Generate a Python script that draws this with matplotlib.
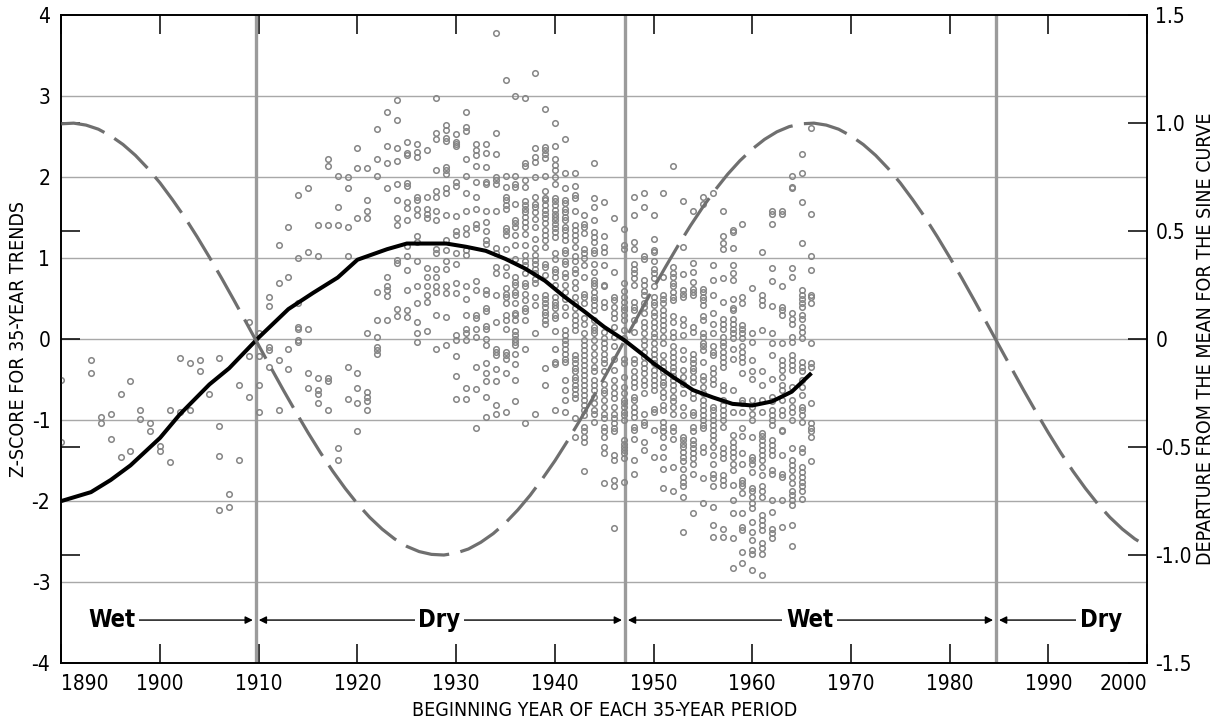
import matplotlib
matplotlib.use('Agg')
import matplotlib.pyplot as plt

plt.rcParams['font.family'] = ['DejaVu Sans']
plt.rcParams['font.stretch'] = 'condensed'
plt.rcParams['axes.unicode_minus'] = False

# --- z-scores of 35-year trends, one list per beginning year ---
pts_1890s = {
    1890: [-0.5, -1.27],
    1893: [-0.26, -0.42],
    1894: [-0.96, -1.04],
    1895: [-0.93, -1.24],
    1896: [-0.68, -1.46],
    1897: [-0.52, -1.38],
    1898: [-0.88, -0.99],
    1899: [-1.04, -1.13],
}
pts_1900s = {
    1900: [-1.32, -1.38],
    1901: [-0.88, -1.52],
    1902: [-0.23, -0.9],
    1903: [-0.29, -0.88],
    1904: [-0.26, -0.39],
    1905: [-0.68],
    1906: [-0.23, -1.07, -1.44, -2.11],
    1907: [-1.91, -2.07],
    1908: [-0.57, -1.49],
    1909: [0.21, -0.21, -0.71],
}
pts_1910s = {
    1910: [0.07, -0.21, -0.57, -0.9],
    1911: [0.52, 0.41, -0.1, -0.14, -0.34],
    1912: [1.16, 0.69, -0.26, -0.88],
    1913: [1.39, 0.77, -0.12, -0.37],
    1914: [1.78, 1.0, 0.44, 0.15, 0.13, -0.01, -0.03],
    1915: [1.86, 1.08, 0.13, -0.42, -0.6],
    1916: [1.41, 1.02, -0.48, -0.63, -0.68, -0.79],
    1917: [2.22, 2.14, 1.41, -0.48, -0.52, -0.88],
    1918: [2.02, 1.63, 1.41, -1.35, -1.49],
    1919: [2.0, 1.86, 1.38, 1.02, -0.34, -0.74],
}
pts_1920s = {
    1920: [2.36, 2.11, 1.5, -0.42, -0.6, -0.79, -1.13],
    1921: [2.11, 1.72, 1.58, 1.5, 0.07, -0.65, -0.71, -0.76, -0.88],
    1922: [2.59, 2.22, 2.02, 0.58, 0.24, 0.02, -0.1, -0.14, -0.18],
    1923: [2.81, 2.39, 2.17, 1.86, 0.77, 0.65, 0.61, 0.53, 0.24],
    1924: [2.95, 2.7, 2.36, 2.2, 1.92, 1.72, 1.5, 1.41, 0.98, 0.94, 0.37, 0.28],
    1925: [2.43, 2.3, 2.27, 1.93, 1.89, 1.69, 1.62, 1.47, 1.15, 1.02, 0.85, 0.61, 0.36, 0.27],
    1926: [2.41, 2.31, 2.25, 1.76, 1.72, 1.61, 1.53, 1.27, 1.2, 0.97, 0.65, 0.44, 0.21, 0.07, -0.04],
    1927: [2.33, 1.76, 1.61, 1.55, 1.49, 0.88, 0.77, 0.65, 0.54, 0.46, 0.1],
    1928: [2.98, 2.55, 2.47, 2.09, 1.83, 1.76, 1.58, 1.47, 1.11, 1.06, 0.87, 0.77, 0.65, 0.58,
           0.3, -0.12],
    1929: [2.64, 2.58, 2.48, 2.45, 2.13, 2.09, 2.04, 1.86, 1.8, 1.53, 1.22, 1.1, 0.97, 0.87,
           0.65, 0.57, 0.27, -0.07],
}
pts_1930s = {
    1930: [2.53, 2.44, 2.41, 2.38, 1.94, 1.89, 1.52, 1.33, 1.28, 1.06, 0.93, 0.69, 0.57, 0.05,
           -0.01, -0.21, -0.46, -0.74],
    1931: [2.81, 2.62, 2.57, 2.22, 2.02, 1.8, 1.58, 1.37, 1.3, 1.1, 1.04, 0.66, 0.49, 0.3,
           0.13, 0.07, -0.01, -0.6, -0.74],
    1932: [2.41, 2.33, 2.27, 2.14, 1.94, 1.75, 1.61, 1.42, 1.37, 0.72, 0.61, 0.3, 0.26, 0.13,
           0.02, -0.34, -0.62, -1.1],
    1933: [2.41, 2.3, 2.12, 1.94, 1.92, 1.58, 1.44, 1.33, 1.22, 1.18, 0.61, 0.56, 0.38, 0.35,
           0.16, 0.13, 0.0, -0.07, -0.29, -0.42, -0.52, -0.71, -0.96],
    1934: [3.78, 2.55, 2.28, 2.0, 1.97, 1.92, 1.58, 1.12, 1.06, 0.89, 0.81, 0.54, 0.21, -0.12,
           -0.16, -0.2, -0.37, -0.52, -0.82, -0.93],
    1935: [3.2, 2.02, 1.88, 1.76, 1.72, 1.65, 1.61, 1.37, 1.34, 1.28, 1.11, 0.89, 0.79, 0.63,
           0.56, 0.52, 0.44, 0.3, 0.23, 0.13, -0.16, -0.2, -0.24, -0.42, -0.9],
    1936: [3.0, 2.02, 1.92, 1.88, 1.67, 1.47, 1.43, 1.39, 1.28, 1.16, 0.99, 0.77, 0.71, 0.67,
           0.58, 0.54, 0.44, 0.32, 0.3, 0.24, 0.1, 0.05, 0.0, -0.04, -0.07, -0.18, -0.31,
           -0.51, -0.76],
    1937: [2.98, 2.17, 2.14, 1.97, 1.88, 1.7, 1.65, 1.61, 1.57, 1.51, 1.45, 1.39, 1.3, 1.16,
           1.04, 0.97, 0.91, 0.81, 0.69, 0.65, 0.56, 0.48, 0.39, 0.35, 0.24, -0.12, -1.04],
    1938: [3.28, 2.36, 2.25, 2.19, 2.0, 1.76, 1.67, 1.63, 1.57, 1.48, 1.39, 1.24, 1.12, 1.04,
           0.98, 0.93, 0.87, 0.81, 0.74, 0.69, 0.52, 0.42, 0.07, -0.93],
    1939: [2.84, 2.37, 2.33, 2.29, 2.24, 2.02, 1.83, 1.74, 1.72, 1.65, 1.6, 1.55, 1.49, 1.43,
           1.35, 1.28, 1.22, 1.14, 0.93, 0.89, 0.79, 0.54, 0.5, 0.44, 0.4, 0.34, 0.3, 0.23,
           0.19, -0.36, -0.57],
}
pts_1940s = {
    1940: [2.67, 2.39, 2.23, 2.15, 2.09, 2.0, 1.92, 1.74, 1.7, 1.65, 1.59, 1.55, 1.51, 1.47,
           1.42, 1.37, 1.32, 1.26, 1.06, 0.99, 0.87, 0.83, 0.77, 0.67, 0.52, 0.46, 0.42, 0.38,
           0.3, 0.26, 0.1, -0.12, -0.28, -0.31, -0.88],
    1941: [2.47, 2.05, 1.86, 1.72, 1.68, 1.61, 1.57, 1.51, 1.47, 1.39, 1.35, 1.28, 1.22, 1.1,
           1.06, 0.97, 0.93, 0.81, 0.77, 0.67, 0.58, 0.5, 0.4, 0.3, 0.11, 0.05, -0.01, -0.06,
           -0.12, -0.18, -0.24, -0.28, -0.51, -0.63, -0.75, -0.9],
    1942: [2.05, 1.89, 1.78, 1.74, 1.58, 1.41, 1.35, 1.28, 1.22, 1.14, 1.02, 0.97, 0.87, 0.81,
           0.71, 0.63, 0.52, 0.44, 0.38, 0.3, 0.23, 0.17, 0.11, -0.2, -0.25, -0.3, -0.36,
           -0.4, -0.47, -0.51, -0.57, -0.62, -0.68, -0.73, -0.98, -1.21],
    1943: [1.53, 1.42, 1.39, 1.31, 1.11, 1.06, 1.0, 0.91, 0.77, 0.56, 0.52, 0.44, 0.26, 0.19,
           0.07, -0.01, -0.07, -0.14, -0.2, -0.26, -0.32, -0.38, -0.44, -0.51, -0.57, -0.63,
           -0.69, -0.75, -0.81, -0.88, -0.94, -1.08, -1.14, -1.21, -1.27, -1.63],
    1944: [2.17, 1.74, 1.63, 1.47, 1.32, 1.26, 1.2, 1.1, 1.06, 0.93, 0.83, 0.73, 0.69, 0.65,
           0.58, 0.52, 0.48, 0.42, 0.36, 0.23, 0.15, 0.11, 0.07, -0.01, -0.1, -0.18, -0.26,
           -0.34, -0.4, -0.51, -0.57, -0.63, -0.71, -0.79, -0.88, -0.92, -1.02],
    1945: [1.69, 1.27, 1.14, 1.08, 0.91, 0.67, 0.65, 0.46, 0.4, 0.09, 0.01, -0.05, -0.11,
           -0.18, -0.24, -0.3, -0.4, -0.55, -0.63, -0.67, -0.75, -0.84, -0.92, -0.98, -1.08,
           -1.14, -1.21, -1.33, -1.41, -1.78],
    1946: [1.5, 0.83, 0.52, 0.48, 0.4, 0.32, 0.26, 0.15, 0.03, -0.09, -0.24, -0.38, -0.51,
           -0.59, -0.67, -0.73, -0.84, -0.92, -0.98, -1.04, -1.1, -1.14, -1.43, -1.49, -1.74,
           -1.82, -2.33],
    1947: [1.36, 1.16, 1.11, 0.69, 0.6, 0.52, 0.46, 0.4, 0.36, 0.3, 0.23, 0.11, 0.01, -0.24,
           -0.3, -0.47, -0.59, -0.67, -0.75, -0.79, -0.84, -0.9, -0.94, -1.0, -1.25, -1.29,
           -1.33, -1.37, -1.41, -1.47, -1.76],
    1948: [1.75, 1.53, 1.2, 1.11, 0.93, 0.87, 0.81, 0.75, 0.67, 0.46, 0.4, 0.36, 0.23, 0.09,
           -0.24, -0.3, -0.4, -0.47, -0.53, -0.59, -0.71, -0.75, -0.84, -0.9, -0.96, -1.08,
           -1.12, -1.23, -1.49, -1.66],
    1949: [1.8, 1.63, 1.02, 0.99, 0.73, 0.67, 0.6, 0.54, 0.44, 0.4, 0.32, 0.21, 0.15, 0.07,
           -0.01, -0.07, -0.16, -0.22, -0.3, -0.36, -0.42, -0.51, -0.57, -0.67, -0.92, -1.02,
           -1.06, -1.27, -1.37],
}
pts_1950s = {
    1950: [1.53, 1.24, 1.1, 1.08, 0.97, 0.87, 0.81, 0.75, 0.65, 0.52, 0.46, 0.42, 0.34, 0.28,
           0.21, 0.15, 0.07, 0.03, -0.05, -0.12, -0.18, -0.24, -0.3, -0.38, -0.44, -0.51,
           -0.57, -0.63, -0.86, -0.9, -1.12, -1.45],
    1951: [1.8, 0.77, 0.54, 0.5, 0.44, 0.36, 0.3, 0.23, 0.17, 0.11, 0.03, -0.05, -0.2, -0.28,
           -0.34, -0.4, -0.47, -0.53, -0.57, -0.65, -0.71, -0.82, -0.88, -1.02, -1.08, -1.14,
           -1.21, -1.33, -1.45, -1.6, -1.84],
    1952: [2.14, 0.89, 0.81, 0.77, 0.69, 0.65, 0.58, 0.52, 0.48, 0.28, 0.21, 0.09, 0.03,
           -0.09, -0.16, -0.22, -0.28, -0.34, -0.4, -0.45, -0.51, -0.57, -0.63, -0.71, -0.77,
           -0.84, -0.92, -1.08, -1.14, -1.23, -1.58, -1.88],
    1953: [1.7, 1.14, 0.8, 0.61, 0.56, 0.52, 0.25, 0.17, 0.05, -0.14, -0.24, -0.38, -0.47,
           -0.55, -0.67, -0.84, -0.94, -1.21, -1.25, -1.29, -1.33, -1.39, -1.45, -1.51, -1.6,
           -1.7, -1.76, -1.82, -1.95, -2.38],
    1954: [1.58, 0.94, 0.83, 0.71, 0.62, 0.58, 0.54, 0.15, 0.09, -0.18, -0.24, -0.3, -0.36,
           -0.4, -0.47, -0.53, -0.67, -0.73, -0.9, -0.94, -1.08, -1.14, -1.25, -1.29, -1.35,
           -1.41, -1.47, -1.54, -1.66, -2.15],
    1955: [1.75, 1.67, 0.62, 0.58, 0.52, 0.48, 0.42, 0.28, 0.23, 0.07, 0.03, -0.05, -0.09,
           -0.14, -0.28, -0.45, -0.51, -0.59, -0.67, -0.75, -0.82, -0.88, -0.94, -1.0, -1.06,
           -1.1, -1.33, -1.39, -1.72, -2.02],
    1956: [1.8, 0.91, 0.73, 0.55, 0.32, 0.19, 0.07, -0.09, -0.16, -0.2, -0.36, -0.42, -0.49,
           -0.55, -0.84, -0.88, -0.94, -1.0, -1.06, -1.12, -1.18, -1.25, -1.33, -1.43, -1.54,
           -1.66, -1.72, -1.82, -2.07, -2.3, -2.44],
    1957: [1.58, 1.27, 1.19, 1.11, 0.75, 0.46, 0.25, 0.19, 0.13, 0.03, -0.03, -0.09, -0.16,
           -0.22, -0.28, -0.34, -0.57, -0.63, -0.75, -0.82, -0.88, -0.94, -1.0, -1.08, -1.35,
           -1.41, -1.47, -1.68, -1.74, -1.8, -2.34, -2.44],
    1958: [1.35, 1.32, 1.13, 0.91, 0.81, 0.73, 0.5, 0.38, 0.36, 0.25, 0.19, 0.13, 0.07, 0.01,
           -0.12, -0.24, -0.63, -0.9, -1.18, -1.27, -1.33, -1.39, -1.45, -1.54, -1.62, -1.8,
           -1.99, -2.15, -2.46, -2.83],
    1959: [1.42, 0.52, 0.44, 0.17, 0.13, 0.07, 0.01, -0.09, -0.16, -0.22, -0.28, -0.42,
           -0.75, -0.79, -0.9, -1.1, -1.2, -1.41, -1.54, -1.74, -1.78, -1.82, -1.9, -2.15,
           -2.32, -2.36, -2.63, -2.77],
}
pts_1960s = {
    1960: [0.63, 0.07, -0.03, -0.26, -0.4, -0.49, -0.75, -0.84, -0.92, -1.0, -1.21, -1.45,
           -1.49, -1.54, -1.64, -1.84, -1.88, -1.95, -2.03, -2.09, -2.26, -2.38, -2.48, -2.6,
           -2.65, -2.85],
    1961: [1.08, 0.54, 0.48, 0.42, 0.11, -0.4, -0.57, -0.75, -0.9, -1.16, -1.2, -1.25, -1.31,
           -1.37, -1.43, -1.49, -1.58, -1.68, -1.82, -1.88, -1.95, -2.17, -2.23, -2.3, -2.36,
           -2.52, -2.58, -2.65, -2.91],
    1962: [1.58, 1.54, 1.42, 0.88, 0.72, 0.41, 0.07, -0.05, -0.2, -0.49, -0.71, -0.77, -0.88,
           -0.94, -1.0, -1.06, -1.25, -1.31, -1.37, -1.43, -1.62, -1.66, -1.99, -2.13, -2.34,
           -2.4, -2.46],
    1963: [1.58, 1.54, 0.66, 0.4, 0.36, 0.3, -0.05, -0.26, -0.32, -0.38, -0.47, -0.57, -0.63,
           -0.75, -0.88, -0.94, -1.12, -1.14, -1.43, -1.66, -1.7, -1.99, -2.32],
    1964: [2.02, 1.88, 1.86, 0.88, 0.77, 0.32, 0.25, 0.19, 0.03, -0.03, -0.2, -0.26, -0.32,
           -0.38, -0.59, -0.75, -0.84, -0.9, -1.0, -1.35, -1.49, -1.56, -1.62, -1.7, -1.78,
           -1.87, -1.93, -1.99, -2.05, -2.3, -2.55],
    1965: [2.28, 2.05, 1.69, 1.19, 0.61, 0.54, 0.49, 0.44, 0.4, 0.3, 0.25, 0.15, 0.09, 0.01,
           -0.28, -0.34, -0.4, -0.51, -0.59, -0.69, -0.84, -0.88, -0.94, -1.02, -1.35, -1.39,
           -1.58, -1.64, -1.7, -1.76, -1.82, -1.88, -1.97],
    1966: [2.61, 1.55, 1.02, 0.85, 0.54, 0.52, 0.44, -0.05, -0.3, -0.34, -0.79, -1.04, -1.1,
           -1.14, -1.21, -1.51],
}

# --- smoothed trend line (black) ---
smooth_years = [1890, 1893, 1895, 1897, 1900, 1902, 1905, 1907, 1910, 1913, 1915.5, 1918,
                1920, 1923, 1925, 1929, 1931, 1933, 1935, 1937, 1939, 1941, 1943, 1945,
                1947, 1949, 1950, 1952, 1954, 1956, 1958, 1960, 1962, 1964, 1966]
smooth_z = [-2.0, -1.89, -1.74, -1.56, -1.22, -0.93, -0.56, -0.36, 0.02, 0.37, 0.57, 0.76,
            0.98, 1.11, 1.18, 1.18, 1.14, 1.09, 0.99, 0.87, 0.72, 0.52, 0.34, 0.15,
            -0.01, -0.2, -0.3, -0.47, -0.63, -0.72, -0.8, -0.82, -0.77, -0.65, -0.42]

# --- sine curve, departure from the mean (right axis), read every 1.25 years ---
sine_years = [1890 + 1.25 * i for i in range(89)]
sine_dep = [0.997, 1.000, 0.991, 0.972, 0.941, 0.901, 0.851, 0.791, 0.723, 0.646,
            0.564, 0.474, 0.379, 0.281, 0.179, 0.075, -0.030, -0.134, -0.237, -0.337,
            -0.434, -0.526, -0.612, -0.691, -0.763, -0.826, -0.880, -0.925, -0.960, -0.984,
            -0.997, -1.000, -0.991, -0.972, -0.941, -0.901, -0.851, -0.791, -0.723, -0.646,
            -0.564, -0.474, -0.379, -0.281, -0.179, -0.075, 0.030, 0.134, 0.237, 0.337,
            0.434, 0.526, 0.612, 0.691, 0.763, 0.826, 0.880, 0.925, 0.960, 0.984,
            0.997, 1.000, 0.991, 0.972, 0.941, 0.901, 0.851, 0.791, 0.723, 0.646,
            0.564, 0.474, 0.379, 0.281, 0.179, 0.075, -0.030, -0.134, -0.237, -0.337,
            -0.434, -0.526, -0.612, -0.691, -0.763, -0.826, -0.880, -0.925, -0.960]

phase_breaks = [1909.7, 1947.1, 1984.7]
phase_labels = ['Wet', 'Dry', 'Wet', 'Dry']
phase_label_x = [1895.1, 1928.3, 1965.8, 1995.3]

left_ticks = list(range(-4, 5))
right_ticks = [-1.5, -1.0, -0.5, 0, 0.5, 1.0, 1.5]
right_tick_labels = ['-1.5', '-1.0', '-0.5', '0', '0.5', '1.0', '1.5']
x_ticks = list(range(1890, 2001, 10))

fig = plt.figure(figsize=(12.2, 7.23), dpi=100)
ax = fig.add_axes([0.0503, 0.083, 0.8899, 0.896])
ax.set_xlim(1890, 2000)
ax.set_ylim(-4, 4)

for z in range(-3, 4):
    ax.axhline(z, color='#a8a8a8', lw=1.0, zorder=1)
for xb in phase_breaks:
    ax.axvline(xb, color='#9b9b9b', lw=2.4, zorder=2)

# scatter points
xs, zs = [], []
for group in [pts_1890s, pts_1900s, pts_1910s, pts_1920s, pts_1930s, pts_1940s,
              pts_1950s, pts_1960s]:
    for yr, vals in group.items():
        xs += [yr] * len(vals)
        zs += vals
ax.plot(xs, zs, 'o', mfc='none', mec='#858585', ms=4.0, mew=1.1, zorder=3)

# smoothed trend line
ax.plot(smooth_years, smooth_z, color='black', lw=2.9, zorder=5,
        solid_joinstyle='round', solid_capstyle='butt')

# wet / dry annotations: arrows run from the label to the phase break
ya = -3.47
arrow_pairs = [(1895.1, 1909.4), (1928.3, 1910.0), (1928.3, 1946.8),
               (1965.8, 1947.4), (1965.8, 1984.4), (1995.3, 1985.0)]
for x0, x1 in arrow_pairs:
    ax.annotate('', xy=(x1, ya), xytext=(x0, ya),
                arrowprops=dict(arrowstyle='-|>', color='black', lw=1.0,
                                mutation_scale=11, shrinkA=0, shrinkB=0), zorder=6)
for lab, xl in zip(phase_labels, phase_label_x):
    ax.text(xl, ya, lab, ha='center', va='center', fontsize=17, fontweight='bold', zorder=7,
            bbox=dict(boxstyle='square,pad=0.15', fc='white', ec='none'))

ax.set_yticks(left_ticks)
ax.set_yticklabels([str(v) for v in left_ticks])
ax.tick_params(axis='y', length=0, labelsize=15, pad=8)
ax.set_xticks(x_ticks)
ax.set_xticklabels([str(v) for v in x_ticks])
ax.tick_params(axis='x', direction='in', length=13.5, width=1.1, top=True,
               labelsize=15, pad=8)
xl = ax.get_xticklabels()
xl[0].set_ha('left')
xl[-1].set_ha('right')

ax.set_xlabel('BEGINNING YEAR OF EACH 35-YEAR PERIOD', fontsize=14, labelpad=5)
ax.set_ylabel('Z-SCORE FOR 35-YEAR TRENDS', fontsize=14)
ax.yaxis.set_label_coords(-0.031, 0.5)

ax2 = ax.twinx()
ax2.set_ylim(-1.5, 1.5)
ax2.plot(sine_years, sine_dep, color='#6f6f6f', lw=2.3, linestyle=(0, (14, 3.6)),
         dash_capstyle='butt', zorder=4)
ax2.set_yticks(right_ticks)
ax2.set_yticklabels(right_tick_labels)
ax2.tick_params(axis='y', direction='in', length=13.5, width=1.1, left=True, right=True,
                labelsize=15, pad=6)
ax2.set_ylabel('DEPARTURE FROM THE MEAN FOR THE SINE CURVE', fontsize=14)
ax2.yaxis.set_label_coords(1.045, 0.5)

for a in (ax, ax2):
    for s in a.spines.values():
        s.set_linewidth(1.2)
        s.set_color('black')

fig.savefig('out.png', dpi=100)
